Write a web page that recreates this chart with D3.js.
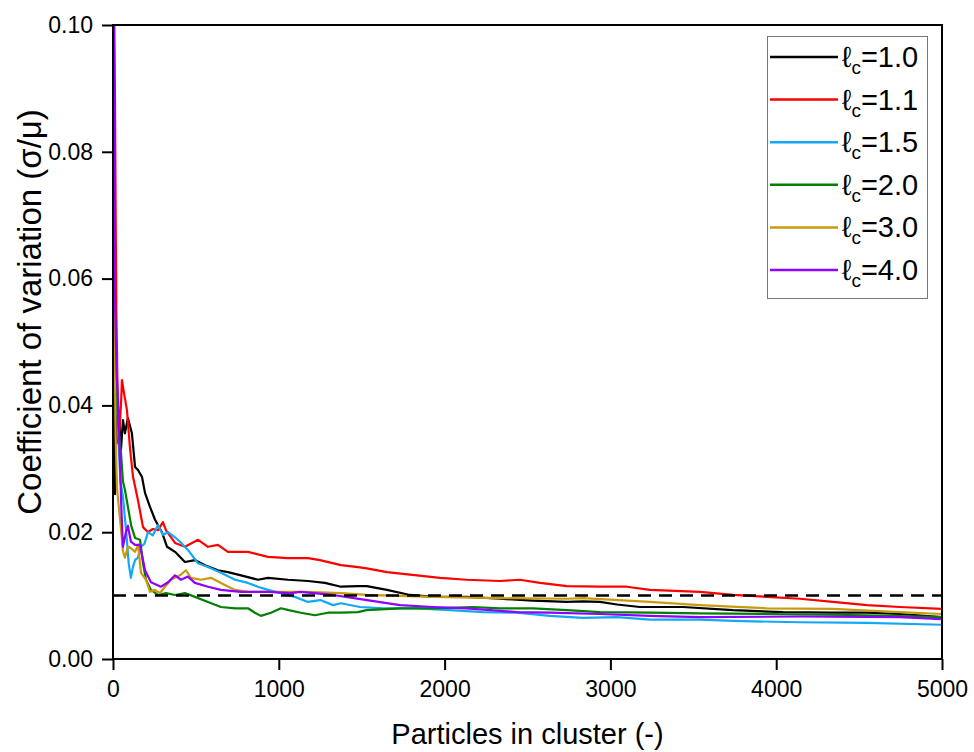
<!DOCTYPE html>
<html>
<head>
<meta charset="utf-8">
<script src="https://cdn.jsdelivr.net/npm/d3@7"></script>
<style>
  body { margin: 0; background: #fff; }
  svg { display: block; font-family: "Liberation Sans", Arial, sans-serif; }
</style>
</head>
<body>
<svg id="chart" width="974" height="752"></svg>
<script>
(function () {
    'use strict';

    // values: [particles, cv]
    var lc10 = [[1,0.105],[5,0.07],[9,0.045],[12,0.026],[15,0.042],[22,0.034],[35,0.039],[48,0.033],[60,0.0377],[72,0.0356],[90,0.038],[114,0.0356],[133,0.0303],[151,0.0298],[175,0.0287],[193,0.0262],[223,0.024],[253,0.022],[295,0.02],[326,0.0177],[374,0.0169],[434,0.0153],[494,0.0156],[555,0.0148],[633,0.014],[693,0.0137],[772,0.0132],[874,0.0125],[935,0.0128],[1055,0.0125],[1176,0.0123],[1278,0.012],[1375,0.0114],[1477,0.0115],[1531,0.0115],[1652,0.0109],[1791,0.0101],[1930,0.0098],[2134,0.0098],[2334,0.0095],[2533,0.0092],[2738,0.009],[2834,0.0091],[2937,0.009],[3040,0.0086],[3178,0.0082],[3437,0.0082],[3739,0.0077],[4040,0.0074],[4342,0.0073],[4546,0.0073],[4746,0.0071],[5000,0.0066]];
    var lc11 = [[1,0.13],[8,0.1],[12,0.088],[16,0.07],[20,0.055],[28,0.042],[38,0.036],[48,0.04],[54,0.044],[66,0.042],[84,0.0393],[102,0.0334],[121,0.0287],[151,0.025],[181,0.0208],[211,0.02],[240,0.0205],[271,0.0203],[301,0.0216],[320,0.0203],[374,0.0183],[434,0.0177],[513,0.0188],[573,0.0177],[633,0.018],[693,0.0169],[814,0.0169],[935,0.0161],[1055,0.0159],[1176,0.0159],[1248,0.0156],[1375,0.0148],[1477,0.0145],[1531,0.0143],[1652,0.0137],[1833,0.0132],[1972,0.0128],[2134,0.0125],[2334,0.0123],[2454,0.0125],[2575,0.012],[2738,0.0115],[2937,0.0114],[3099,0.0114],[3238,0.0109],[3540,0.0106],[3739,0.0101],[3943,0.0098],[4143,0.0095],[4342,0.009],[4547,0.0085],[4746,0.0082],[5000,0.0079]];
    var lc15 = [[1,0.12],[6,0.075],[10,0.055],[15,0.05],[22,0.044],[32,0.035],[45,0.028],[60,0.0256],[80,0.02],[95,0.015],[108,0.0128],[120,0.0145],[133,0.0156],[150,0.016],[169,0.0177],[190,0.0182],[211,0.02],[240,0.0195],[271,0.0211],[301,0.0196],[332,0.02],[374,0.0192],[404,0.0185],[452,0.0172],[513,0.0151],[573,0.0145],[651,0.0136],[736,0.0125],[814,0.012],[874,0.0114],[935,0.0109],[1013,0.0104],[1097,0.0098],[1176,0.009],[1250,0.0093],[1327,0.0085],[1375,0.0088],[1489,0.0082],[1628,0.008],[1833,0.008],[2032,0.0077],[2231,0.0074],[2436,0.0073],[2635,0.0068],[2834,0.0065],[3039,0.0066],[3238,0.0062],[3540,0.0062],[3739,0.006],[4143,0.0058],[4547,0.0057],[5000,0.0054]];
    var lc20 = [[1,0.12],[5,0.08],[9,0.062],[14,0.05],[22,0.042],[32,0.037],[48,0.0325],[60,0.028],[72,0.0267],[90,0.024],[110,0.021],[133,0.0191],[163,0.0188],[181,0.0151],[199,0.0125],[229,0.0109],[271,0.0101],[320,0.0104],[374,0.0101],[434,0.0104],[494,0.0098],[573,0.009],[651,0.0082],[736,0.008],[814,0.008],[856,0.0073],[892,0.0068],[953,0.0073],[1013,0.008],[1060,0.0077],[1133,0.0073],[1218,0.0069],[1296,0.0073],[1375,0.0073],[1477,0.0074],[1530,0.0077],[1731,0.008],[1930,0.008],[2171,0.0082],[2334,0.008],[2533,0.008],[2738,0.0077],[2937,0.0074],[3238,0.0073],[3540,0.0072],[3943,0.0071],[4547,0.0069],[5000,0.0066]];
    var lc30 = [[1,0.11],[5,0.07],[10,0.048],[16,0.035],[24,0.027],[35,0.024],[50,0.02],[60,0.017],[72,0.016],[90,0.0177],[102,0.0176],[133,0.0169],[151,0.018],[169,0.0136],[199,0.0125],[223,0.0106],[253,0.0109],[283,0.0104],[314,0.0114],[350,0.0125],[404,0.0132],[440,0.014],[470,0.0128],[531,0.0125],[591,0.0128],[651,0.012],[736,0.0109],[814,0.0106],[935,0.0106],[1055,0.0106],[1176,0.0106],[1375,0.0104],[1531,0.0101],[1930,0.0098],[2334,0.0096],[2738,0.0095],[2834,0.0096],[3238,0.009],[3540,0.0085],[3943,0.008],[4342,0.0079],[4746,0.0074],[5000,0.0071]];
    var lc40 = [[1,0.12],[5,0.1],[12,0.0566],[22,0.045],[30,0.041],[42,0.031],[50,0.024],[60,0.0177],[78,0.02],[90,0.021],[108,0.0185],[133,0.018],[163,0.018],[193,0.014],[229,0.0121],[289,0.0114],[332,0.0121],[374,0.0132],[410,0.0125],[452,0.013],[494,0.012],[573,0.0114],[651,0.0109],[772,0.0106],[935,0.0106],[1073,0.0104],[1128,0.0106],[1327,0.0101],[1532,0.0093],[1731,0.0085],[1930,0.0082],[2134,0.008],[2436,0.0074],[2635,0.0073],[2937,0.0071],[3238,0.0068],[3540,0.0066],[4143,0.0067],[4746,0.0066],[5000,0.0063]];

    var seriesNames = ['1.0', '1.1', '1.5', '2.0', '3.0', '4.0'];
    var seriesData = [lc10, lc11, lc15, lc20, lc30, lc40];
    var colors = ['#000000', '#ff0000', '#12a8f5', '#008000', '#c89b0b', '#8f00ff'];

    var xTicks = [0, 1000, 2000, 3000, 4000, 5000];
    var yTicks = [0, 0.02, 0.04, 0.06, 0.08, 0.10];
    var threshold = 0.01;

    var margin = {left: 113, top: 25, right: 32, bottom: 93};
    var W = 974, H = 752;
    var svg = d3.select('#chart');

    var x = d3.scaleLinear().domain([0, 5000]).range([margin.left, W - margin.right]);
    var y = d3.scaleLinear().domain([0, 0.1]).range([H - margin.bottom, margin.top]);

    svg.append('clipPath').attr('id', 'clip')
        .append('rect')
        .attr('x', x(0)).attr('y', y(0.1))
        .attr('width', x(5000) - x(0)).attr('height', y(0) - y(0.1));

    var line = d3.line().x(d => x(d[0])).y(d => y(d[1]));

    var plot = svg.append('g').attr('clip-path', 'url(#clip)');
    plot.selectAll('path.series')
        .data(seriesData)
      .enter().append('path')
        .attr('class', 'series')
        .attr('d', line)
        .style('fill', 'none')
        .style('stroke', (d, i) => colors[i])
        .style('stroke-width', 2.2)
        .style('stroke-linejoin', 'round');

    // 1% reference line
    plot.append('path')
        .attr('d', line([[0, threshold], [5000, threshold]]))
        .style('fill', 'none')
        .style('stroke', '#000')
        .style('stroke-width', 2.5)
        .style('stroke-dasharray', '13,8');

    // frame
    svg.append('rect')
        .attr('x', x(0)).attr('y', y(0.1))
        .attr('width', x(5000) - x(0)).attr('height', y(0) - y(0.1))
        .style('fill', 'none').style('stroke', '#000').style('stroke-width', 2);

    // axes: major + minor ticks outward
    var xAxis = svg.append('g').attr('transform', 'translate(0,' + y(0) + ')');
    xAxis.call(d3.axisBottom(x).tickValues(d3.range(500, 5000, 1000)).tickSize(6).tickFormat(''));
    xAxis.call(d3.axisBottom(x).tickValues(xTicks).tickSize(11).tickPadding(11).tickFormat(d3.format('d')));
    var yAxis = svg.append('g').attr('transform', 'translate(' + x(0) + ',0)');
    yAxis.call(d3.axisLeft(y).tickValues(d3.range(0.01, 0.1, 0.02)).tickSize(6).tickFormat(''));
    yAxis.call(d3.axisLeft(y).tickValues(yTicks).tickSize(11).tickPadding(9).tickFormat(d3.format('.2f')));

    svg.selectAll('.domain').remove();
    svg.selectAll('.tick line').style('stroke', '#000').style('stroke-width', 2);
    svg.selectAll('.tick text').style('font-size', '23px').style('fill', '#000')
        .style('font-family', '"Liberation Sans", Arial, sans-serif');

    svg.append('text')
        .attr('x', (x(0) + x(5000)) / 2).attr('y', 744)
        .attr('text-anchor', 'middle')
        .style('font-size', '29px')
        .text('Particles in cluster (-)');

    svg.append('text')
        .attr('transform', 'translate(41,' + 312 + ') rotate(-90)')
        .attr('text-anchor', 'middle')
        .style('font-size', '33px')
        .text('Coefficient of variation (σ/μ)');

    // legend
    var legend = svg.append('g');
    legend.append('rect')
        .attr('x', 767.5).attr('y', 36.5).attr('width', 160).attr('height', 262)
        .style('fill', '#fff').style('stroke', '#777').style('stroke-width', 1);

    var item = legend.selectAll('g.item')
        .data(seriesNames)
      .enter().append('g')
        .attr('class', 'item')
        .attr('transform', (d, i) => 'translate(0,' + (57 + i * 42.6) + ')');

    item.append('line')
        .attr('x1', 770).attr('x2', 838)
        .style('stroke', (d, i) => colors[i])
        .style('stroke-width', 2.5);

    var label = item.append('text')
        .attr('x', 842).attr('y', 10)
        .style('font-size', '29px');
    label.append('tspan').text('ℓ');
    label.append('tspan').attr('dy', 7).style('font-size', '19px').text('c');
    label.append('tspan').attr('dy', -7).text(d => '=' + d);
}());
</script>
</body>
</html>
